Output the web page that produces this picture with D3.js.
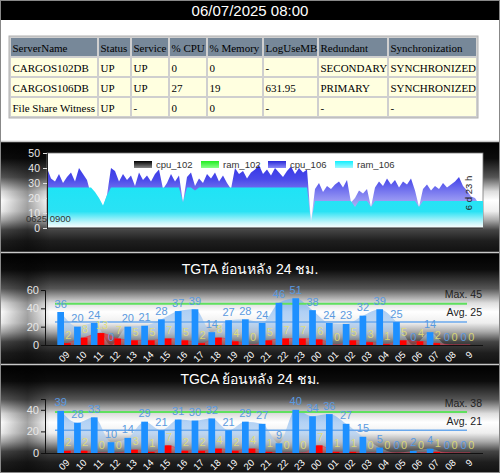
<!DOCTYPE html>
<html>
<head>
<meta charset="utf-8">
<script src="https://cdn.jsdelivr.net/npm/d3@7"></script>
<style>
body { margin: 0; background: #fff; }
svg { display: block; }
</style>
</head>
<body>
<svg id="chart" width="500" height="473"></svg>
<script>
// ---------- data ----------
var reportTime = "06/07/2025 08:00"

var tableHeader = ["ServerName", "Status", "Service", "% CPU", "% Memory", "LogUseMB", "Redundant", "Synchronization"]
var tableRows = [
    ["CARGOS102DB", "UP", "UP", "0", "0", "-", "SECONDARY", "SYNCHRONIZED"],
    ["CARGOS106DB", "UP", "UP", "27", "19", "631.95", "PRIMARY", "SYNCHRONIZED"],
    ["File Share Witness", "UP", "-", "0", "0", "-", "-", "-"]
]

var trendSeries = ["cpu_102", "ram_102", "cpu_106", "ram_106"]
var trendTicks = [0, 10, 20, 30, 40, 50]
var trendStart = "0625 0900"
var trendSpan = "6 d 23 h"
var cpu106 = [
    40, 33, 31, 36, 30, 34, 37, 31, 40, 36,
    32, 22, 20, 18, 14, 22, 40, 38, 31, 36,
    32, 35, 28, 37, 32, 35, 31, 36, 39, 26,
    30, 36, 31, 35, 17, 34, 37, 28, 33, 30,
    36, 33, 37, 31, 35, 30, 26, 40, 36, 38,
    33, 37, 39, 42, 36, 39, 35, 40, 37, 34,
    38, 41, 36, 40, 37, 39, 4, 26, 30, 24,
    28, 26, 29, 31, 27, 32, 17, 20, 25, 23,
    26, 14, 27, 31, 28, 33, 29, 32, 27, 31,
    29, 33, 25, 14, 26, 29, 25, 28, 26, 30,
    27, 29, 31, 34, 28, 25, 21, 20, 16, 16
]
var ram106 = [
    27, 27, 27, 27, 27, 27, 27, 27, 27, 27,
    27, 27, 24, 20, 15, 22, 27, 27, 27, 27,
    27, 27, 27, 27, 27, 27, 27, 27, 27, 27,
    27, 27, 27, 27, 17, 27, 27, 25, 27, 27,
    27, 27, 27, 27, 27, 27, 27, 27, 27, 27,
    27, 27, 27, 27, 27, 27, 27, 27, 27, 27,
    27, 27, 27, 27, 27, 27, 4, 18, 18, 18,
    18, 18, 18, 18, 18, 18, 18, 14, 18, 18,
    18, 14, 18, 18, 18, 18, 18, 18, 18, 18,
    18, 18, 18, 14, 18, 18, 18, 18, 18, 18,
    18, 18, 18, 18, 18, 18, 18, 18, 18, 18
]

var hours = ["09", "10", "11", "12", "13", "14", "15", "16", "17", "18", "19", "20", "21",
    "22", "23", "00", "01", "02", "03", "04", "05", "06", "07", "08", "9"]

var tgtaCount = [36, 20, 24, 0, 20, 21, 28, 37, 39, 14, 27, 28, 24, 46, 51, 38, 24, 23, 32, 39, 25, 0, 14, 0, 0]
var tgtaRed = [2, 8, 13, 7, 5, 5, 7, 5, 2, 8, 4, 0, 5, 7, 7, 6, 0, 5, 3, 1, 5, 4, 2, 0, 0]
var tgtaTicks = [0, 20, 40, 60]
var tgtaMax = 45
var tgtaAvg = 25

var tgcaCount = [39, 28, 33, 10, 14, 29, 21, 31, 30, 32, 21, 29, 27, 9, 40, 34, 36, 27, 15, 5, 0, 2, 4, 0, 0]
var tgcaRed = [2, 2, 0, 0, 3, 1, 7, 2, 2, 4, 2, 4, 1, 0, 0, 7, 1, 1, 0, 0, 0, 0, 1, 0, 0]
var tgcaTicks = [0, 20, 40]
var tgcaMax = 38
var tgcaAvg = 21

// ---------- setup ----------
var svg = d3.select("#chart")
var defs = svg.append("defs")
var sans = "Arial, 'Liberation Sans', 'Noto Sans', sans-serif"

function vGradient(id, stops, user) {
    let g = defs.append("linearGradient").attr("id", id)
        .attr("x1", 0).attr("x2", 0).attr("y1", user ? user[0] : 0).attr("y2", user ? user[1] : 1)
    if (user) g.attr("gradientUnits", "userSpaceOnUse")
    stops.forEach(function(s) {
        g.append("stop").attr("offset", s[0]).attr("stop-color", s[1])
            .attr("stop-opacity", s[2] === undefined ? 1 : s[2])
    })
}

vGradient("panelBg", [[0, "#000"], [0.15, "#0c0c0c"], [0.32, "#555"], [0.45, "#ddd"], [0.53, "#fff"],
    [0.63, "#eee"], [0.71, "#aaa"], [0.8, "#444"], [0.9, "#1e1e1e"], [1, "#111"]])
let edge = defs.append("linearGradient").attr("id", "edgeShade")
edge.append("stop").attr("offset", 0).attr("stop-color", "#000").attr("stop-opacity", 0)
edge.append("stop").attr("offset", 0.055).attr("stop-color", "#000").attr("stop-opacity", 0.35)
edge.append("stop").attr("offset", 0.1).attr("stop-color", "#000").attr("stop-opacity", 0)
edge.append("stop").attr("offset", 1).attr("stop-color", "#000").attr("stop-opacity", 0)

// ---------- title + table ----------
svg.append("rect").attr("x", 0).attr("y", 0).attr("width", 500).attr("height", 20).attr("fill", "#000")
svg.append("text").attr("x", 250).attr("y", 15.5).attr("text-anchor", "middle")
    .attr("fill", "#fff").style("font", "15px " + sans).text(reportTime)

var colEdges = [10, 98, 131, 169, 207, 263, 318, 388, 477]
var rowTop = 37, rowH = 20
var table = svg.append("g")
table.append("rect").attr("x", colEdges[0] - 1).attr("y", rowTop - 1)
    .attr("width", colEdges[8] - colEdges[0] + 2).attr("height", rowH * 4 + 2)
    .attr("fill", "#cfcfcf").attr("stroke", "#b0b0b0")

function drawRow(cells, r, bg) {
    cells.forEach(function(txt, c) {
        let x0 = colEdges[c], x1 = colEdges[c + 1], y0 = rowTop + r * rowH
        table.append("rect").attr("x", x0 + 1).attr("y", y0 + 1)
            .attr("width", x1 - x0 - 2).attr("height", rowH - 2).attr("fill", bg)
        table.append("text").attr("x", x0 + 2.5).attr("y", y0 + 14.5)
            .attr("fill", "#000").style("font", "11px 'Liberation Serif', 'Times New Roman', serif").text(txt)
    })
}
drawRow(tableHeader, 0, "#778899")
tableRows.forEach(function(row, i) { drawRow(row, i + 1, "#ffffe0") })

// ---------- panel backgrounds ----------
var panels = [[142, 110], [253, 111], [365, 108]]
panels.forEach(function(p) {
    svg.append("rect").attr("x", 0).attr("y", p[0]).attr("width", 500).attr("height", p[1]).attr("fill", "url(#panelBg)")
    svg.append("rect").attr("x", 0).attr("y", p[0]).attr("width", 500).attr("height", p[1]).attr("fill", "url(#edgeShade)")
    svg.append("line").attr("x1", 0).attr("x2", 500).attr("y1", p[0] - 0.5).attr("y2", p[0] - 0.5)
        .attr("stroke", "#c8c8c8").attr("stroke-width", 1.5)
})

// ---------- trend chart ----------
function drawTrend() {
    let g = svg.append("g")
    let x = d3.scaleLinear().domain([0, cpu106.length - 1]).range([47, 483])
    let y = d3.scaleLinear().domain([0, 50]).range([228, 153])

    g.append("rect").attr("x", 47).attr("y", 153).attr("width", 436).attr("height", 75)
        .attr("fill", "#fff").attr("stroke", "#777").attr("stroke-width", 0.8)

    vGradient("cpuFill", [[0, "#2424e2"], [0.35, "#4a4aea"], [0.6, "#9090f2"], [1, "#f4f4ff"]], [153, 228])
    vGradient("ramFill", [[0, "#10e6f8"], [0.78, "#2ae2f4"], [0.93, "#c8f6fb"], [1, "#ffffff"]], [153, 228])

    let cpuArea = d3.area().x(function(d, i) { return x(i) }).y0(y(0)).y1(function(d) { return y(d) })
    g.append("path").datum(cpu106).attr("d", cpuArea).attr("fill", "url(#cpuFill)")
    g.append("path").datum(ram106).attr("d", cpuArea).attr("fill", "url(#ramFill)")

    let axis = g.append("g").attr("transform", "translate(47,0)")
        .call(d3.axisLeft(y).tickValues(trendTicks).tickSize(4).tickPadding(3))
    axis.select(".domain").attr("stroke", "#222")
    axis.selectAll(".tick line").attr("stroke", "#ddd")
    axis.selectAll("text").attr("fill", "#e8e8e8").style("font", "10.5px " + sans)
    g.append("line").attr("x1", 47).attr("x2", 483).attr("y1", 228).attr("y2", 228).attr("stroke", "#222")

    // legend
    let swatch = [["#000", "#888"], ["#22ee22", "#88ff88"], ["#2a2ad8", "#8a8af8"], ["#10f0ff", "#a0f8ff"]]
    trendSeries.forEach(function(name, i) {
        vGradient("leg" + i, [[0, swatch[i][0]], [1, swatch[i][1]]])
        let lx = 134 + i * 67
        g.append("rect").attr("x", lx).attr("y", 161).attr("width", 18).attr("height", 7).attr("fill", "url(#leg" + i + ")")
        g.append("text").attr("x", lx + 22).attr("y", 167.5).attr("fill", "#333")
            .style("font", "9.5px " + sans).text(name)
    })

    g.append("text").attr("x", 26).attr("y", 222).attr("fill", "#333").style("font", "9.5px " + sans).text(trendStart)
    g.append("text").attr("transform", "translate(472,193) rotate(-90)").attr("text-anchor", "middle")
        .attr("fill", "#222").style("font", "9.5px " + sans).text(trendSpan)
}
drawTrend()

// ---------- hourly charts ----------
function drawHourly(opt) {
    let g = svg.append("g")
    let x = d3.scaleBand().domain(hours).range([55.6, 475.4])
    let y = d3.scaleLinear().domain([0, opt.top]).range([opt.y0, opt.y1])
    let c = function(h) { return x(h) + x.bandwidth() / 2 }
    let bw = 6.7

    g.append("text").attr("x", 250).attr("y", opt.titleY).attr("text-anchor", "middle")
        .attr("fill", "#fff").style("font", "14px " + sans).text(opt.title)

    vGradient(opt.id + "Blue", [[0, "#6ea8ec", 0.85], [0.7, "#a8ccf4", 0.6], [1, "#ffffff", 0.2]], [opt.y1, opt.y0])
    vGradient(opt.id + "Red", [[0, "#ff2020", 0.75], [1, "#ff6060", 0.25]], [y(14), opt.y0])

    let area = d3.area().curve(d3.curveMonotoneX).y0(opt.y0)
    g.append("path").datum(opt.counts)
        .attr("d", area.x(function(d, i) { return c(hours[i]) - bw / 2 }).y1(function(d) { return y(d) }))
        .attr("fill", "url(#" + opt.id + "Blue)")
    g.append("path").datum(opt.reds)
        .attr("d", area.x(function(d, i) { return c(hours[i]) + bw / 2 }).y1(function(d) { return y(d) }))
        .attr("fill", "url(#" + opt.id + "Red)").attr("stroke", "#e03050").attr("stroke-opacity", 0.5)

    g.append("line").attr("x1", 55).attr("x2", 467).attr("y1", y(opt.max)).attr("y2", y(opt.max))
        .attr("stroke", "#5fe05f").attr("stroke-width", 2)
    g.append("line").attr("x1", 55).attr("x2", 467).attr("y1", y(opt.avg)).attr("y2", y(opt.avg))
        .attr("stroke", "#6aa8ec").attr("stroke-width", 1.5)

    g.selectAll(".blueBar").data(opt.counts).enter().append("rect")
        .attr("x", function(d, i) { return c(hours[i]) - bw })
        .attr("y", function(d) { return y(d) })
        .attr("width", bw).attr("height", function(d) { return opt.y0 - y(d) })
        .attr("fill", "#1e90ff")
    g.selectAll(".redBar").data(opt.reds).enter().append("rect")
        .attr("x", function(d, i) { return c(hours[i]) })
        .attr("y", function(d) { return y(d) })
        .attr("width", bw).attr("height", function(d) { return opt.y0 - y(d) })
        .attr("fill", "#ff0000")

    g.selectAll(".blueLbl").data(opt.counts).enter().append("text")
        .attr("x", function(d, i) { return c(hours[i]) - bw / 2 })
        .attr("y", function(d) { return y(d) - 4.5 })
        .attr("text-anchor", "middle").attr("fill", "#5a9ae0")
        .style("font", "11px " + sans).text(function(d) { return d })
    g.selectAll(".redLbl").data(opt.reds).enter().append("text")
        .attr("x", function(d, i) { return c(hours[i]) + bw / 2 + 1 })
        .attr("y", function(d) { return y(d) - 4.5 })
        .attr("text-anchor", "middle").attr("fill", "#e4e070").attr("fill-opacity", 0.85)
        .style("font", "11px " + sans).text(function(d) { return d })

    let axis = g.append("g").attr("transform", "translate(45,0)")
        .call(d3.axisLeft(y).tickValues(opt.ticks).tickSize(4).tickPadding(2))
    axis.select(".domain").attr("stroke", "#111")
    axis.selectAll(".tick line").attr("stroke", "#111")
    axis.selectAll("text").attr("fill", "#e6e6e6").style("font", "11px " + sans)
    g.append("line").attr("x1", 45).attr("x2", 483).attr("y1", opt.y0 + 0.5).attr("y2", opt.y0 + 0.5).attr("stroke", "#111")

    g.selectAll(".hourLbl").data(hours).enter().append("text")
        .attr("transform", function(h) { return "translate(" + (c(h) + 4) + "," + (opt.y0 + 8) + ") rotate(-45)" })
        .attr("text-anchor", "end").attr("dy", "0.35em").attr("fill", "#fff")
        .style("font", "9.5px " + sans).text(function(h) { return h })

    g.append("text").attr("x", 482).attr("y", opt.y1 + 8).attr("text-anchor", "end").attr("fill", "#222")
        .style("font", "10.5px " + sans).text("Max. " + opt.max)
    g.append("text").attr("x", 482).attr("y", opt.y1 + 26).attr("text-anchor", "end").attr("fill", "#222")
        .style("font", "10.5px " + sans).text("Avg. " + opt.avg)
}

drawHourly({ id: "tgta", title: "TGTA ย้อนหลัง 24 ชม.", titleY: 274, counts: tgtaCount, reds: tgtaRed,
    top: 60, ticks: tgtaTicks, y0: 345, y1: 290, max: tgtaMax, avg: tgtaAvg })
drawHourly({ id: "tgca", title: "TGCA ย้อนหลัง 24 ชม.", titleY: 384, counts: tgcaCount, reds: tgcaRed,
    top: 50, ticks: tgcaTicks, y0: 453, y1: 399, max: tgcaMax, avg: tgcaAvg })

svg.append("rect").attr("x", 0.5).attr("y", 0.5).attr("width", 499).attr("height", 472)
    .attr("fill", "none").attr("stroke", "#888")
</script>
</body>
</html>
